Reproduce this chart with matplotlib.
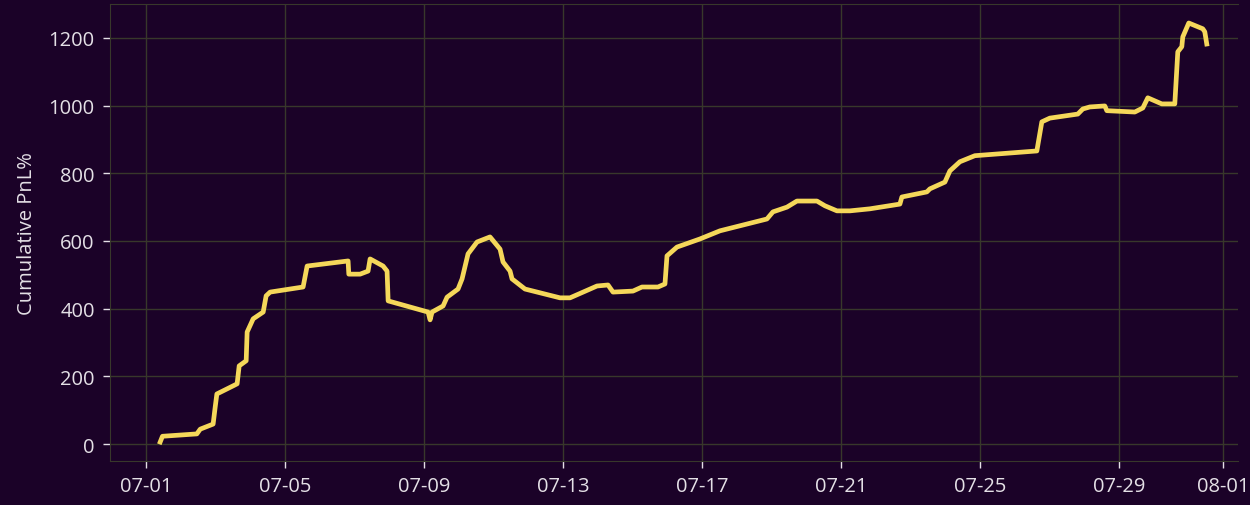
import pandas as pd
import matplotlib
matplotlib.use("Agg")
import matplotlib.pyplot as plt
import matplotlib.dates as mdates

# timestamps and cumulative pnl
TIMES = [
    "07-01 09:40", "07-01 11:15", "07-02 11:00", "07-02 13:20", "07-02 22:15",
    "07-02 23:40", "07-03 00:50", "07-03 12:05", "07-03 14:50", "07-03 16:15",
    "07-03 21:05", "07-03 21:45", "07-04 01:55", "07-04 08:50", "07-04 10:53",
    "07-04 13:38", "07-05 12:25", "07-05 15:12", "07-06 19:30", "07-06 20:00",
    "07-07 03:48", "07-07 09:18", "07-07 10:42", "07-07 19:40", "07-07 22:26",
    "07-07 23:10", "07-09 02:46", "07-09 04:09", "07-09 05:31", "07-09 13:08",
    "07-09 15:53", "07-09 23:28", "07-10 02:15", "07-10 06:23", "07-10 12:36",
    "07-10 21:34", "07-11 04:29", "07-11 06:33", "07-11 11:24", "07-11 12:46",
    "07-11 21:45", "07-12 21:56", "07-13 04:50", "07-13 23:28", "07-14 07:05",
    "07-14 10:32", "07-15 00:20", "07-15 06:33", "07-15 17:37", "07-15 22:26",
    "07-15 23:50", "07-16 06:44", "07-16 22:37", "07-17 12:25", "07-18 20:54",
    "07-19 01:02", "07-19 10:42", "07-19 17:37", "07-20 07:25", "07-20 12:57",
    "07-20 21:15", "07-21 06:13", "07-21 20:00", "07-22 16:45", "07-22 18:07",
    "07-23 11:24", "07-23 13:28", "07-23 23:50", "07-24 03:17", "07-24 10:11",
    "07-24 20:33", "07-26 15:22", "07-26 18:49", "07-27 00:20", "07-27 19:40",
    "07-27 23:08", "07-28 03:58", "07-28 14:20", "07-28 15:43", "07-29 11:03",
    "07-29 16:35", "07-29 20:02", "07-30 05:42", "07-30 14:41", "07-30 16:45",
    "07-30 19:31", "07-30 20:12", "07-31 00:20", "07-31 10:00", "07-31 11:24",
    "07-31 12:46",
]
PNL = [
    6, 23, 30, 44, 59,
    109, 148, 172, 178, 231,
    246, 331, 370, 390, 438,
    449, 464, 526, 541, 502,
    502, 511, 547, 526, 511,
    423, 390, 367, 390, 408,
    434, 458, 488, 562, 597,
    612, 576, 538, 511, 488,
    458, 432, 432, 467, 470,
    449, 452, 464, 464, 473,
    556, 582, 606, 630, 665,
    686, 700, 718, 718, 704,
    689, 689, 695, 709, 730,
    745, 754, 774, 807, 834,
    852, 866, 952, 963, 975,
    990, 996, 999, 985, 981,
    993, 1023, 1005, 1005, 1159,
    1174, 1203, 1244, 1227, 1218,
    1182,
]
TICK_DAYS = [1, 5, 9, 13, 17, 21, 25, 29]

BG = "#1b0228"
GRID = "#38382b"
TEXT = "#e4e0e6"
LINE = "#f5d85a"

plt.rcParams["font.family"] = ["Open Sans", "DejaVu Sans"]

dates = pd.to_datetime(["2023-" + t for t in TIMES], format="%Y-%m-%d %H:%M")

fig = plt.figure(figsize=(12.5, 5.06), dpi=100, facecolor=BG)
ax = fig.add_axes([0.088, 0.087, 0.902, 0.903])
ax.set_facecolor(BG)

ax.plot(dates, PNL, color=LINE, linewidth=3.4, solid_joinstyle="round")

ax.set_xlim(pd.Timestamp("2023-06-29 23:00"), pd.Timestamp("2023-08-01 10:00"))
ax.set_ylim(-50, 1300)
ax.set_yticks([0, 200, 400, 600, 800, 1000, 1200])
ax.xaxis.set_major_locator(mdates.DayLocator(bymonthday=TICK_DAYS))
ax.xaxis.set_major_formatter(mdates.DateFormatter("%m-%d"))

ax.grid(True, color=GRID, linewidth=1)
ax.set_axisbelow(True)
for side in ax.spines:
    ax.spines[side].set_color(GRID)
ax.spines["right"].set_visible(False)

ax.tick_params(colors=TEXT, labelsize=14.5, length=5, width=1, pad=6)
ax.set_ylabel("Cumulative PnL%", color=TEXT, fontsize=14.5, labelpad=8)

fig.savefig("out.png", dpi=100, facecolor=BG)
